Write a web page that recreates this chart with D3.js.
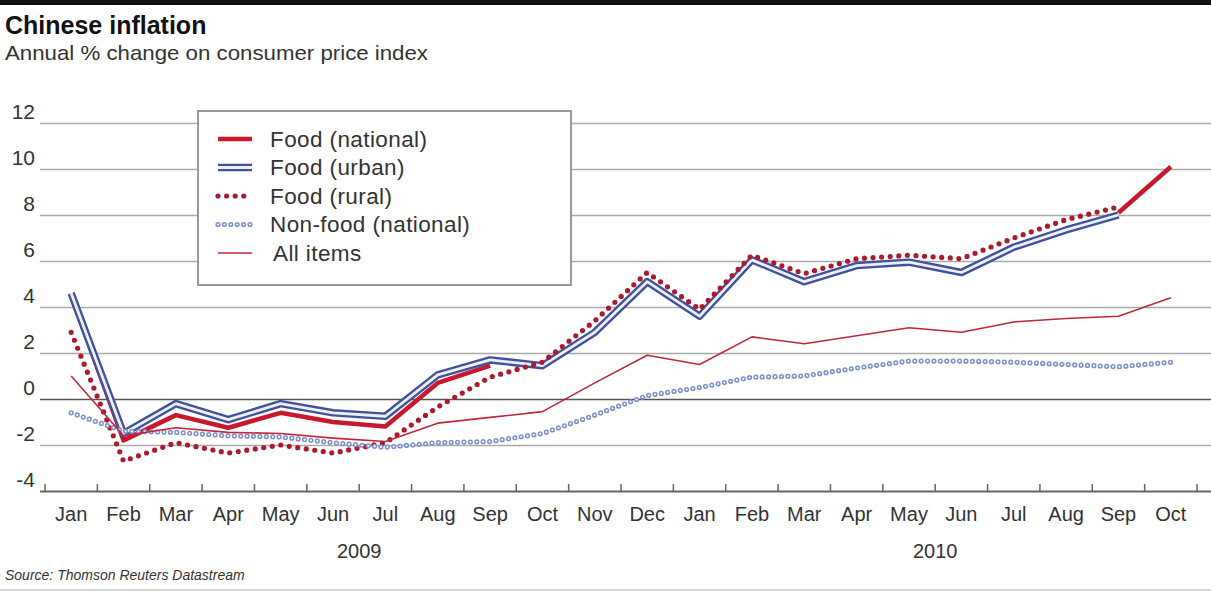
<!DOCTYPE html>
<html>
<head>
<meta charset="utf-8">
<script src="https://cdn.jsdelivr.net/npm/d3@7"></script>
<style>
  html, body { margin: 0; padding: 0; background: #fff; }
  svg { display: block; }
  text { font-family: "Liberation Sans", Arial, sans-serif; fill: #333; }
</style>
</head>
<body>
<svg id="chart" width="1211" height="592"></svg>
<script>
// Months shown on the x axis (Jan 2009 - Oct 2010)
const months = ["Jan","Feb","Mar","Apr","May","Jun","Jul","Aug","Sep","Oct","Nov","Dec",
                "Jan","Feb","Mar","Apr","May","Jun","Jul","Aug","Sep","Oct"];
const years = [{label: "2009", first: 0, last: 11}, {label: "2010", first: 12, last: 21}];

// Annual % change, consumer price index (null = not plotted)
const foodNational = [4.5,-1.8,-0.7,-1.25,-0.6,-1.0,-1.2,0.7,1.45,null,null,null,
                      null,null,null,null,null,null,null,null,8.1,10.1];
const foodUrban    = [4.6,-1.5,-0.2,-0.9,-0.2,-0.6,-0.75,1.05,1.7,1.45,2.9,5.1,
                      3.6,6.05,5.1,5.8,5.95,5.5,6.6,7.35,8.0];
const foodRural    = [2.9,-2.7,-1.9,-2.35,-2.0,-2.35,-1.9,-0.35,0.95,1.6,3.4,5.5,
                      3.9,6.25,5.45,6.1,6.25,6.1,7.0,7.8,8.35];
const nonFood      = [-0.6,-1.4,-1.45,-1.6,-1.65,-1.9,-2.1,-1.9,-1.85,-1.5,-0.7,0.15,
                      0.5,0.95,1.0,1.35,1.65,1.65,1.6,1.5,1.4,1.6];
const allItems     = [1.0,-1.6,-1.25,-1.45,-1.5,-1.7,-1.85,-1.05,-0.8,-0.55,0.7,1.9,
                      1.5,2.7,2.4,2.75,3.1,2.9,3.35,3.5,3.6,4.4];

const yTicks = [-4,-2,0,2,4,6,8,10,12];
const yTickLabels = ["-4","-2","0","2","4","6","8","10","12"];

const legendNames = ["Food (national)","Food (urban)","Food (rural)","Non-food (national)","All items"];

const W = 1211, H = 592;
const svg = d3.select("#chart");

const x = d3.scaleBand().domain(d3.range(months.length)).range([45, 1197]);
const y = d3.scaleLinear().domain([-4, 12]).range([491, 123]);
const cx = i => x(i) + x.bandwidth() / 2;

// top rule and bottom rule
svg.append("rect").attr("x", 0).attr("y", 0).attr("width", W).attr("height", 5).attr("fill", "#111");
svg.append("line").attr("x1", 0).attr("x2", W).attr("y1", 590).attr("y2", 590)
   .attr("stroke", "#d4d4d4").attr("stroke-width", 2);

// titles
svg.append("text").attr("x", 5).attr("y", 34).text("Chinese inflation")
   .style("font-family", "'Liberation Sans Narrow', 'Liberation Sans', sans-serif")
   .style("font-weight", "bold").style("font-size", "25px").style("fill", "#111");
svg.append("text").attr("x", 5).attr("y", 60).text("Annual % change on consumer price index")
   .attr("textLength", 423).attr("lengthAdjust", "spacingAndGlyphs")
   .style("font-size", "21px").style("fill", "#333");

// y gridlines and labels
const yAxis = d3.axisLeft(y).tickValues(yTicks).tickSize(-(W - 40))
  .tickFormat((d, i) => yTickLabels[i]);
const gy = svg.append("g").attr("transform", "translate(40,0)").call(yAxis);
gy.select(".domain").remove();
gy.selectAll(".tick line")
  .attr("stroke", d => d === 0 ? "#555" : (d === -4 ? "#666" : "#aaa"))
  .attr("stroke-width", d => d === -4 ? 2 : 1.5);
gy.selectAll(".tick text")
  .attr("x", -5).attr("y", -5).attr("dy", null)
  .style("font-size", "21px").style("fill", "#333")
  .style("font-family", "'Liberation Sans', sans-serif");

// x axis ticks at month boundaries
const bounds = d3.range(months.length).map(i => x(i)).concat([x.range()[1]]);
svg.append("g").selectAll("line").data(bounds).join("line")
  .attr("x1", d => d).attr("x2", d => d)
  .attr("y1", y(-4)).attr("y2", y(-4) - 7)
  .attr("stroke", "#666").attr("stroke-width", 1.5);

// month labels
const xAxis = d3.axisBottom(x).tickSize(0).tickPadding(0).tickFormat(i => months[i]);
const gx = svg.append("g").attr("transform", `translate(0,${y(-4)})`).call(xAxis);
gx.select(".domain").remove();
gx.selectAll(".tick text").attr("y", 30).attr("dy", null)
  .style("font-size", "20px").style("fill", "#333")
  .style("font-family", "'Liberation Sans', sans-serif");

// year labels centered under their months
svg.append("g").selectAll("text").data(years).join("text")
  .attr("x", d => (x(d.first) + x(d.last) + x.bandwidth()) / 2)
  .attr("y", 558)
  .attr("text-anchor", "middle")
  .style("font-size", "20px").style("fill", "#333")
  .text(d => d.label);

// source
svg.append("text").attr("x", 5).attr("y", 580)
  .style("font-size", "14px").style("font-style", "italic").style("fill", "#333")
  .style("font-family", "'Liberation Sans Narrow', 'Liberation Sans', sans-serif")
  .text("Source: Thomson Reuters Datastream");

// line styles
const line = d3.line().defined(d => d != null).x((d, i) => cx(i)).y(d => y(d));
const styles = {
  national: [{stroke: "#c8182c", width: 4.5}],
  urban: [{stroke: "#41519c", width: 7.5}, {stroke: "#eef0fa", width: 2.8}],
  rural: [{stroke: "#ad1a2b", width: 5.2, dash: "0 8.6", cap: "round"}],
  nonfood: [{stroke: "#7e90cc", width: 5.2, dash: "0 6.4", cap: "round"},
            {stroke: "#ffffff", width: 2.2, dash: "0 6.4", cap: "round"}],
  all: [{stroke: "#c0283a", width: 1.6}]
};

function drawPath(g, d, layers) {
  layers.forEach(s => {
    g.append("path").attr("d", d)
      .attr("fill", "none")
      .attr("stroke", s.stroke)
      .attr("stroke-width", s.width)
      .attr("stroke-linejoin", "round")
      .attr("stroke-linecap", s.cap || "butt")
      .attr("stroke-dasharray", s.dash || null);
  });
}

const plot = svg.append("g");
drawPath(plot, line(foodNational), styles.national);
drawPath(plot, line(foodUrban), styles.urban);
drawPath(plot, line(foodRural), styles.rural);
drawPath(plot, line(nonFood), styles.nonfood);
drawPath(plot, line(allItems), styles.all);

// legend
const lg = svg.append("g");
lg.append("rect").attr("x", 198).attr("y", 111).attr("width", 373).attr("height", 174)
  .attr("fill", "#fff").attr("stroke", "#999").attr("stroke-width", 2);
const legendStyles = [styles.national, styles.urban, styles.rural, styles.nonfood, styles.all];
legendNames.forEach((name, i) => {
  const yy = 139 + i * 28.5;
  drawPath(lg, `M${218},${yy}H${252}`, legendStyles[i]);
  lg.append("text").attr("x", i === 4 ? 273 : 270).attr("y", yy + 7.5)
    .style("font-size", "22.5px").style("letter-spacing", "0.4px").style("fill", "#333")
    .text(name);
});
</script>
</body>
</html>
